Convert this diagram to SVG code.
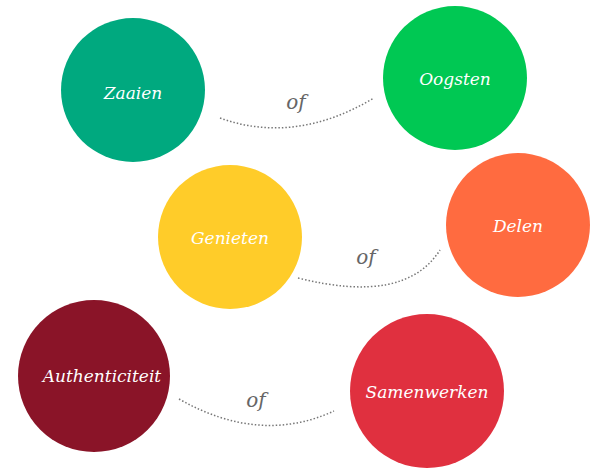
<svg xmlns="http://www.w3.org/2000/svg" width="600" height="475" viewBox="0 0 600 475">
<style>
.lbl{font-family:"DejaVu Serif","Liberation Serif",serif;font-style:italic;fill:#fff;font-size:17px;text-anchor:middle;dominant-baseline:central}
.of{font-family:"DejaVu Serif","Liberation Serif",serif;font-style:italic;fill:#666;font-size:20px;text-anchor:middle;dominant-baseline:central}
.con{fill:none;stroke:#777;stroke-width:1.5;stroke-dasharray:1.5 2}
</style>
<rect width="600" height="475" fill="#fff"/>
<g id="connectors">
<path class="con" d="M220,118 Q295,145 374,98"/>
<path class="con" d="M298,278 Q405,305 440,250"/>
<path class="con" d="M179,399 Q260,445 334,411"/>
<text class="of" x="296" y="102">of</text>
<text class="of" x="366" y="257">of</text>
<text class="of" x="256" y="400">of</text>
</g>
<g id="zaaien"><circle cx="133" cy="90" r="72" fill="#00A97F"/><text class="lbl" x="133" y="93">Zaaien</text></g>
<g id="oogsten"><circle cx="455" cy="78" r="72" fill="#00C853"/><text class="lbl" x="455" y="79">Oogsten</text></g>
<g id="genieten"><circle cx="230" cy="237" r="72" fill="#FFCC29"/><text class="lbl" x="230" y="238">Genieten</text></g>
<g id="delen"><circle cx="518" cy="225" r="72" fill="#FF6B40"/><text class="lbl" x="518" y="226">Delen</text></g>
<g id="authenticiteit"><circle cx="94" cy="376" r="76" fill="#8A1428"/><text class="lbl" x="102" y="376">Authenticiteit</text></g>
<g id="samenwerken"><circle cx="427" cy="391" r="77" fill="#E0303F"/><text class="lbl" x="427" y="392">Samenwerken</text></g>
</svg>
